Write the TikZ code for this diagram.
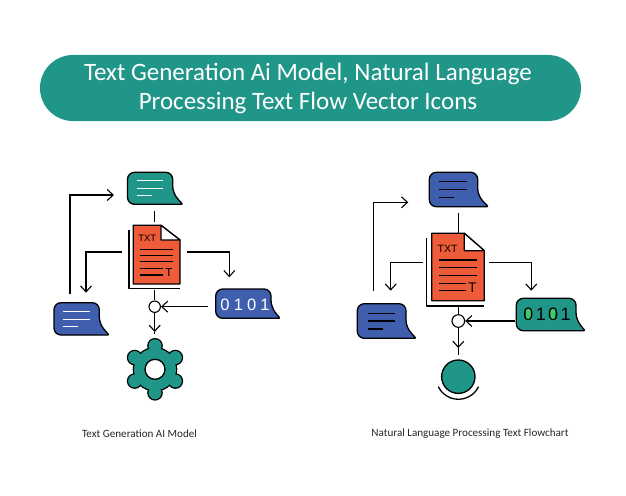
\documentclass[tikz,border=0pt]{standalone}
\usepackage{fontspec}
\setmainfont{Carlito}
\newfontfamily\labelfont{Liberation Sans}
\newfontfamily\digitsA[LetterSpace=25]{Liberation Sans}
\newfontfamily\digitsB[LetterSpace=13]{Liberation Sans}
\usetikzlibrary{positioning}
\usetikzlibrary{arrows.meta}

\definecolor{tealfill}{HTML}{1F9688}
\definecolor{bluefill}{HTML}{3F5FAE}
\definecolor{redfill}{HTML}{EE5B38}
\definecolor{greenfill}{HTML}{3DCB6E}

\tikzset{
	outline/.style = {black, line width = 1.3pt, line join = round},
	link/.style = {black, line width = 1.1pt},
	textline/.style = {line width = 1.1pt},
	caption/.style = {font = \fontsize{11.1}{12}\selectfont, text = black!85},
	junction/.style = {circle, draw = black, fill = white, line width = 1.1pt, inner sep = 0pt}
}

% x, y, right of body, bottom, tip of tail, fill
\newcommand{\bubble}[6]{
	\draw [outline, fill = #6, rounded corners = 7pt] (#1, #2) -- (#3, #2) -- (#3, #4 - 11) [rounded corners = 1pt] -- (#5, #4) [rounded corners = 7pt] -- (#1, #4) -- cycle;
}
% left, top, right, bottom, fold x, fold y, back x, back y, back bottom
\newcommand{\docpage}[9]{
	\draw [outline] (#7, #8) -- (#7, #9) -- (#3, #9);
	\draw [outline, fill = redfill] (#1, #2) -- (#5, #2) -- (#3, #6) -- (#3, #4) -- (#1, #4) -- cycle;
	\draw [outline, fill = white] (#5, #2) -- (#5, #6) -- (#3, #6) -- cycle;
}

\begin{document}
\begin{tikzpicture}[x = 1pt, y = -1pt, >={Straight Barb[length = 6pt, width = 11pt]}]
	\useasboundingbox (0, 0) rectangle (626, 495);

	\fill [tealfill, rounded corners = 33pt] (40, 55) rectangle (581, 121);
	\node (title) at (308, 88.5) [align = center, text = white, font = \fontsize{25}{29.5}\selectfont] {Text Generation Ai Model, Natural Language\\Processing Text Flow Vector Icons};

	% left icon
	\bubble{127.5}{172.3}{172.7}{204.3}{182.7}{tealfill}
	\draw [textline, white] (136.7, 180.7) -- (163.3, 180.7);
	\draw [textline, white] (136.7, 188.3) -- (163.3, 188.3);
	\draw [textline, white] (136.7, 195.7) -- (151.7, 195.7);

	\docpage{133.3}{225.3}{180}{284}{161}{240}{129}{230}{288.3}
	\node (txtA) at (147.3, 238.5) [font = \fontsize{9.4}{10}\selectfont\labelfont] {TXT};
	\foreach \y in {249.3, 255.5, 261.7}
		\draw [textline, black] (140, \y) -- (173.3, \y);
	\foreach \y in {268.3, 275}
		\draw [textline, black] (140, \y) -- (162.7, \y);
	\node (letterA) at (169, 272.3) [font = \fontsize{11.5}{12}\selectfont\labelfont] {T};

	\bubble{54}{302.7}{99.3}{335}{109}{bluefill}
	\draw [textline, white] (63.3, 311.7) -- (90, 311.7);
	\draw [textline, white] (63.3, 319.3) -- (90, 319.3);
	\draw [textline, white] (63.3, 326.7) -- (78.3, 326.7);

	\bubble{215.7}{289}{271}{318.3}{280}{bluefill}
	\node (binA) at (245, 304.5) [text = white, font = \fontsize{16.5}{17}\selectfont\digitsA] {0101};

	% gear
	\foreach \a in {30, 90, ..., 330}
		\draw [black, line width = 2.6pt] (155, 369.3) ++(\a : 23.5) circle (6.5);
	\draw [black, line width = 2.6pt] (155, 369.3) circle (21);
	\foreach \a in {30, 90, ..., 330}
		\fill [tealfill] (155, 369.3) ++(\a : 23.5) circle (6.5);
	\fill [tealfill] (155, 369.3) circle (21);
	\draw [outline, fill = white] (155, 369.3) circle (10);

	\coordinate (bubA) at (154.7, 210.7);
	\coordinate (docTopA) at (154.7, 222.3);
	\coordinate (docBottomA) at (154.7, 290);
	\node (joinA) at (154.7, 306.7) [junction, minimum size = 11.4pt] {};
	\coordinate (tipA) at (154.7, 332);
	\coordinate (gearA) at (154.7, 334);
	\coordinate (docLeftA) at (121.7, 252);
	\coordinate (chatA) at (86, 292.7);
	\coordinate (docRightA) at (186.7, 252);
	\coordinate (binTopA) at (229.3, 277.3);
	\coordinate (binLeftA) at (207.7, 306.7);
	\coordinate (chatTopA) at (70, 294);
	\coordinate (bubLeftA) at (114, 195);

	\draw [link] (bubA) -- (docTopA);
	\draw [link] (docBottomA) -- (joinA);
	\draw [link, ->] (joinA) -- (tipA);
	\draw [link] (tipA) -- (gearA);
	\draw [link, ->] (docLeftA) -| (chatA);
	\draw [link, ->] (docRightA) -| (binTopA);
	\draw [link, ->] (binLeftA) -- (joinA);
	\draw [link, ->] (chatTopA) |- (bubLeftA);

	% right icon
	\bubble{429.3}{172.3}{477.7}{206.7}{488.3}{bluefill}
	\draw [textline, black] (439.3, 181.7) -- (467.3, 181.7);
	\draw [textline, black] (439.3, 189.3) -- (467.3, 189.3);
	\draw [textline, black] (439.3, 197.7) -- (454.3, 197.7);

	\docpage{431.7}{233.3}{484.3}{300.7}{464.3}{250.7}{426.3}{238.3}{306}
	\node (txtB) at (447.7, 248.5) [font = \fontsize{10.6}{12}\selectfont\labelfont] {TXT};
	\foreach \y in {260, 267.7, 275.3}
		\draw [textline, black] (439.3, \y) -- (477.3, \y);
	\foreach \y in {283.3, 290.7}
		\draw [textline, black] (439.3, \y) -- (465.7, \y);
	\node (letterB) at (472.3, 287.3) [font = \fontsize{14}{15}\selectfont\labelfont] {T};

	\bubble{357.3}{303.7}{406}{338.3}{416}{bluefill}
	\draw [textline, black] (367.7, 313.3) -- (395, 313.3);
	\draw [textline, black] (367.7, 321) -- (395, 321);
	\draw [textline, black] (367.7, 329) -- (382.7, 329);

	\bubble{516.3}{298.3}{576}{330.7}{585}{tealfill}
	\fill [greenfill, rounded corners = 2pt] (526, 309) rectangle (532.5, 320);
	\fill [greenfill, rounded corners = 2pt] (549, 309) rectangle (555.5, 320);
	\node (binB) at (547, 314.5) [font = \fontsize{18}{19}\selectfont\digitsB] {0101};

	\draw [outline, fill = tealfill] (458.3, 376.7) circle (16.7);
	\draw [outline] (438.3, 386.7) arc [start angle = 154, end angle = 26, radius = 22.4];

	\coordinate (bubB) at (458.3, 212.7);
	\coordinate (docTopB) at (458.3, 232.7);
	\coordinate (docBottomB) at (458.3, 306);
	\node (joinB) at (458.3, 321) [junction, minimum size = 12.6pt] {};
	\coordinate (tipB) at (458.3, 348);
	\coordinate (circleB) at (458.3, 355);
	\coordinate (docLeftB) at (423.3, 262.3);
	\coordinate (chatB) at (390.7, 290.7);
	\coordinate (docRightB) at (489.3, 262.3);
	\coordinate (binTopB) at (531.3, 290.7);
	\coordinate (binLeftB) at (515, 321);
	\coordinate (chatTopB) at (373.7, 290.7);
	\coordinate (bubLeftB) at (408.3, 202.3);

	\draw [link] (bubB) -- (docTopB);
	\draw [link] (docBottomB) -- (joinB);
	\draw [link, ->] (joinB) -- (tipB);
	\draw [link] (tipB) -- (circleB);
	\draw [link, ->] (docLeftB) -| (chatB);
	\draw [link, ->] (docRightB) -| (binTopB);
	\draw [link, ->] (binLeftB) -- (joinB);
	\draw [link, ->] (chatTopB) |- (bubLeftB);

	\node (capA) at (139.5, 434) [caption] {Text Generation AI Model};
	\node (capB) at (470, 434) [caption] {Natural Language Processing Text Flowchart};
\end{tikzpicture}
\end{document}
